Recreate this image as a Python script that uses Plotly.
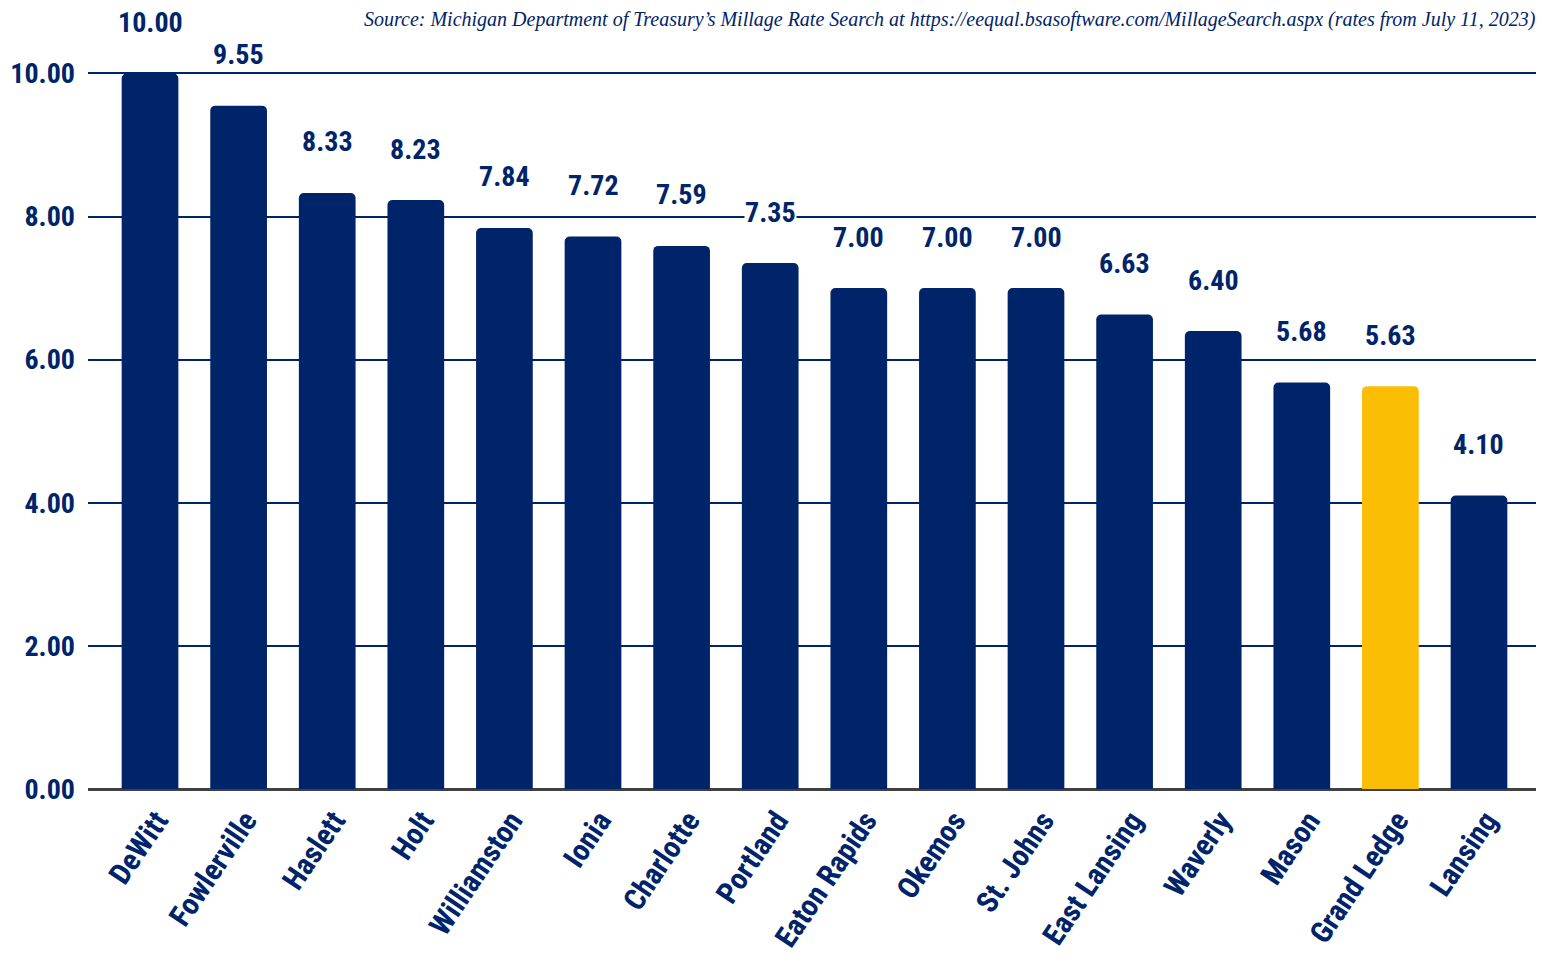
import plotly.graph_objects as go

categories = ["DeWitt", "Fowlerville", "Haslett", "Holt", "Williamston", "Ionia", "Charlotte",
              "Portland", "Eaton Rapids", "Okemos", "St. Johns", "East Lansing", "Waverly",
              "Mason", "Grand Ledge", "Lansing"]
values = [10.00, 9.55, 8.33, 8.23, 7.84, 7.72, 7.59, 7.35, 7.00, 7.00, 7.00, 6.63, 6.40, 5.68, 5.63, 4.10]
highlight = "Grand Ledge"
y_ticks = [0, 2, 4, 6, 8, 10]
source_text = ("Source: Michigan Department of Treasury’s Millage Rate Search at "
               "https://eequal.bsasoftware.com/MillageSearch.aspx (rates from July 11, 2023)")

NAVY = "#002469"
GOLD = "#FBBE05"
FONT = "Liberation Sans Narrow, Arial Narrow, Roboto Condensed, sans-serif"

colors = [GOLD if c == highlight else NAVY for c in categories]

fig = go.Figure()
fig.add_trace(go.Bar(
    x=categories, y=values, marker=dict(color=colors, cornerradius=5, line=dict(width=0)),
    width=0.64, hoverinfo="x+y",
))

for c, v in zip(categories, values):
    fig.add_annotation(x=c, y=v, text=f"<b>{v:.2f}</b>", showarrow=False,
                       yanchor="middle", yshift=51, bgcolor="white", borderpad=0,
                       font=dict(family=FONT, size=28, color=NAVY))

fig.add_annotation(xref="paper", yref="paper", x=1.0, y=1.0, yshift=53,
                   xanchor="right", yanchor="middle", showarrow=False,
                   text=f"<i>{source_text}</i>",
                   font=dict(family="Liberation Serif, serif", size=20, color=NAVY))

fig.update_layout(
    width=1544, height=964,
    margin=dict(l=80, r=14, t=64, b=183),
    paper_bgcolor="white", plot_bgcolor="white",
    showlegend=False,
    xaxis=dict(range=[-0.70, 15.666], tickangle=-56, showgrid=False, automargin=False,
               tickfont=dict(family=FONT, size=30, color=NAVY, weight="bold"),
               ticks="", showline=False, ticklabelstandoff=7, ticklabelshift=7),
    yaxis=dict(range=[0, 10.02], tickvals=y_ticks, ticktext=[f"{t:.2f}" for t in y_ticks],
               showgrid=True, gridcolor=NAVY, gridwidth=2, automargin=False,
               zeroline=True, zerolinecolor="#404040", zerolinewidth=3,
               tickfont=dict(family=FONT, size=28, color=NAVY, weight="bold"),
               ticklabelstandoff=12, showline=False),
)

fig.write_html("out.html")
